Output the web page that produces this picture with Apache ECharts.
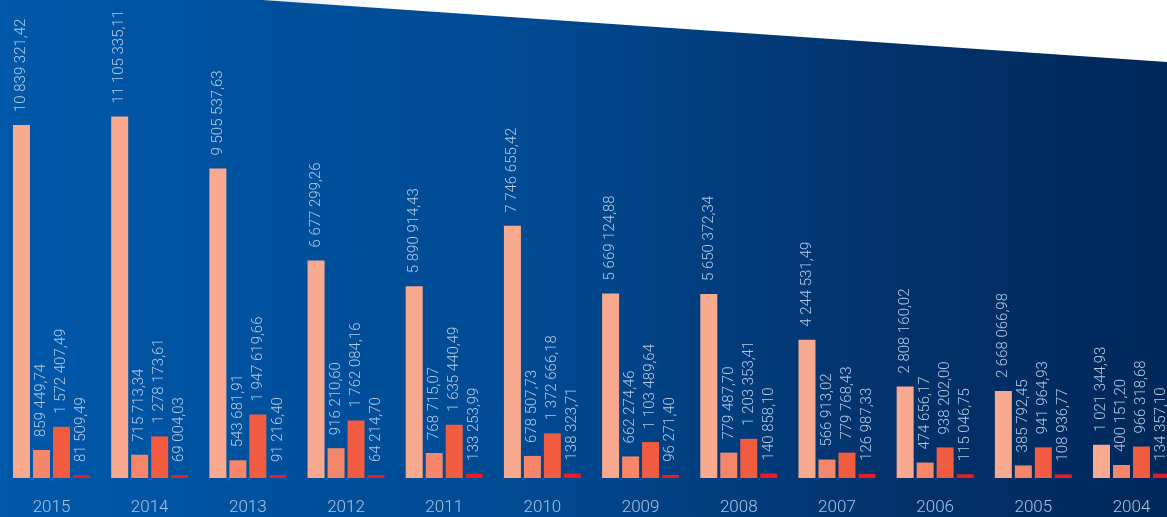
<!DOCTYPE html>
<html>
<head>
<meta charset="utf-8">
<script src="https://cdn.jsdelivr.net/npm/echarts@6/dist/echarts.min.js"></script>
<style>
  html, body { margin: 0; padding: 0; }
  body { background: linear-gradient(to right, #0058a9 0%, #004a92 45%, #03336d 75%, #00285a 100%); }
  #chart { width: 1167px; height: 517px; }
</style>
</head>
<body>
<div id="chart"></div>
<script>
// годы (слева направо)
var years = ['2015', '2014', '2013', '2012', '2011', '2010', '2009', '2008', '2007', '2006', '2005', '2004'];

// четыре ряда значений по годам
var seriesA = [10839321.42, 11105335.11, 9505537.63, 6677299.26, 5890914.43, 7746655.42, 5669124.88, 5650372.34, 4244531.49, 2808160.02, 2668066.98, 1021344.93];
var seriesB = [859449.74, 715713.34, 543681.91, 916210.60, 768715.07, 678507.73, 662274.46, 779487.70, 566913.02, 474656.17, 385792.45, 400151.20];
var seriesC = [1572407.49, 1278173.61, 1947619.66, 1762084.16, 1635440.49, 1372666.18, 1103489.64, 1203353.41, 779768.43, 938202.00, 941964.93, 966318.68];
var seriesD = [81509.49, 69004.03, 91216.40, 64214.70, 133253.99, 138323.71, 96271.40, 140858.10, 126987.33, 115046.75, 108936.77, 134357.10];

var colors = ['#f8aa90', '#f6866a', '#f15b40', '#ec1c24'];

// 10 839 321,42
function fmt(v) {
  var parts = v.toFixed(2).split('.');
  var intPart = parts[0].replace(/\B(?=(\d{3})+(?!\d))/g, ' ');
  return intPart + ',' + parts[1];
}

function makeSeries(data, color) {
  return {
    type: 'bar',
    data: data,
    barWidth: 17,
    barGap: '17.6%',
    barMinHeight: 3,
    itemStyle: { color: color },
    label: {
      show: true,
      position: 'top',
      rotate: 90,
      align: 'left',
      verticalAlign: 'middle',
      distance: 13,
      color: '#b3cbe6',
      fontFamily: 'Roboto',
      fontWeight: 300,
      fontSize: 15,
      formatter: function (p) { return fmt(p.value); }
    },
    silent: true
  };
}

var chart = echarts.init(document.getElementById('chart'));
chart.setOption({
  animation: false,
  backgroundColor: 'transparent',
  grid: { left: 2.4, top: 0, width: 1178.2, bottom: 39, outerBoundsMode: 'none', containLabel: false },
  xAxis: {
    type: 'category',
    data: years,
    axisLine: { show: false },
    axisTick: { show: false },
    axisLabel: {
      color: '#a7c3e4',
      fontFamily: 'Roboto',
      fontWeight: 300,
      fontSize: 17,
      margin: 21
    }
  },
  yAxis: {
    type: 'value',
    min: 0,
    max: 14680000,
    show: false,
    splitLine: { show: false }
  },
  graphic: [{
    type: 'polygon',
    shape: { points: [[262, 0], [1167, 0], [1167, 62]] },
    style: {
      fill: new echarts.graphic.LinearGradient(0, 0, 1, 0, [
        { offset: 0, color: '#e6e9ee' },
        { offset: 0.15, color: '#ffffff' },
        { offset: 1, color: '#ffffff' }
      ])
    },
    silent: true
  }],
  series: [
    makeSeries(seriesA, colors[0]),
    makeSeries(seriesB, colors[1]),
    makeSeries(seriesC, colors[2]),
    makeSeries(seriesD, colors[3])
  ]
});
</script>
</body>
</html>
